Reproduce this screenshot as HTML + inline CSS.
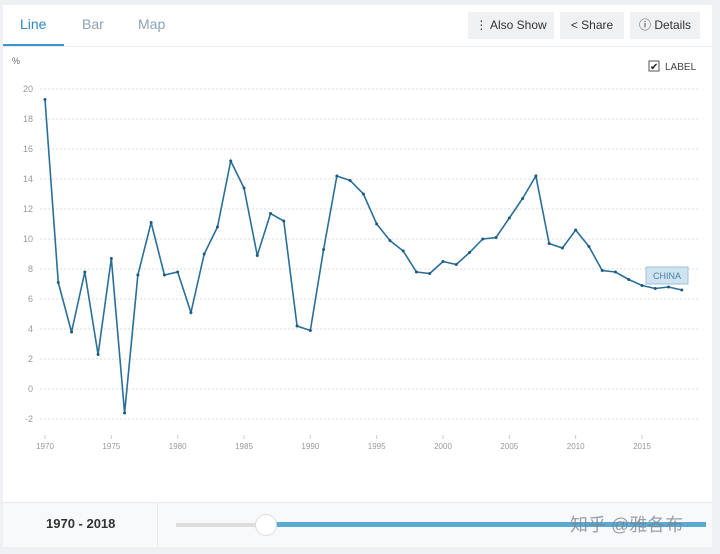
<!DOCTYPE html>
<html><head><meta charset="utf-8"><style>
body{margin:0;background:#eef0f3;font-family:"Liberation Sans","Noto Sans CJK SC",sans-serif;}
#wrap{position:relative;width:720px;height:554px;overflow:hidden;}
#card{position:absolute;left:3px;top:5px;width:709px;height:541px;background:#fff;}
.tab{position:absolute;top:16px;font-size:14px;color:#8aa4b8;}
.btn{position:absolute;top:12px;height:27px;background:#f0f1f3;font-size:12px;color:#333;line-height:27px;text-align:center;}
#bottom{position:absolute;left:3px;top:502px;width:709px;height:44px;background:#f8f9fa;border-top:1px solid #e6e8eb;}
</style></head><body><div id="wrap">
<div id="card"></div>
<div class="tab" style="left:20px;color:#2a8ac0">Line</div>
<div style="position:absolute;left:3px;top:44px;width:61px;height:2px;background:#3a95c9"></div>
<div style="position:absolute;left:3px;top:46px;width:709px;height:1px;background:#e8eaed"></div>
<div class="tab" style="left:82px">Bar</div>
<div class="tab" style="left:138px">Map</div>
<div class="btn" style="left:468px;width:86px">⋮ Also Show</div>
<div class="btn" style="left:560px;width:64px">&lt; Share</div>
<div class="btn" style="left:630px;width:70px">ⓘ Details</div>
<div id="bottom"></div>
<div style="position:absolute;left:157px;top:503px;width:1px;height:43px;background:#e6e8eb"></div>
<div style="position:absolute;left:46px;top:516px;font-size:13px;font-weight:bold;color:#333">1970 - 2018</div>
<div style="position:absolute;left:176px;top:523px;width:90px;height:4px;background:#ddd"></div>
<div style="position:absolute;left:266px;top:522px;width:440px;height:5px;background:#5aaad4"></div>
<div style="position:absolute;left:255px;top:514px;width:20px;height:20px;border-radius:50%;background:#fff;border:1px solid #ddd;"></div>
<div style="position:absolute;left:570px;top:511px;font-size:18px;color:rgba(120,130,140,0.75)">知乎 @雅各布</div>
<svg id="svg" width="720" height="554" style="position:absolute;left:0;top:0"></svg>
</div>
<script>
const years=[];for(let y=1970;y<=2018;y++)years.push(y);
const values=[19.3,7.1,3.8,7.8,2.3,8.7,-1.6,7.6,11.1,7.6,7.8,5.1,9.0,10.8,15.2,13.4,8.9,11.7,11.2,4.2,3.9,9.3,14.2,13.9,13.0,11.0,9.9,9.2,7.8,7.7,8.5,8.3,9.1,10.0,10.1,11.4,12.7,14.2,9.7,9.4,10.6,9.5,7.9,7.8,7.3,6.9,6.7,6.8,6.6];
const yTicks=[-2,0,2,4,6,8,10,12,14,16,18,20];
const xTicks=[1970,1975,1980,1985,1990,1995,2000,2005,2010,2015];
const X=y=>45+(y-1970)*(642-45)/45;
const Y=v=>389-v*15;
const svg=document.getElementById('svg');const NS='http://www.w3.org/2000/svg';
function mk(t,a){const e=document.createElementNS(NS,t);for(const k in a)e.setAttribute(k,a[k]);svg.appendChild(e);return e;}
let t=mk('text',{x:12,y:64,'font-size':9,fill:'#666'});t.textContent='%';


yTicks.forEach(v=>{
 const l=mk('line',{x1:40,x2:700,y1:Y(v),y2:Y(v),stroke:'#ddd','stroke-dasharray':'2,2'});
 
 
 const tx=mk('text',{x:33,y:Y(v)+3,'font-size':9,fill:'#999','text-anchor':'end'});tx.textContent=v;
 
 
});
xTicks.forEach(y=>{
 const l=mk('line',{x1:X(y),x2:X(y),y1:435,y2:439,stroke:'#ccc'});
 
 
 const tx=mk('text',{x:X(y),y:449,'font-size':8,fill:'#999','text-anchor':'middle'});tx.textContent=y;
 
 
});
const p=mk('polyline',{points:years.map((y,i)=>X(y)+','+Y(values[i])).join(' '),fill:'none',stroke:'#2a6f97','stroke-width':1.6});


years.forEach((y,i)=>{const c=mk('circle',{cx:X(y),cy:Y(values[i]),r:1.5,fill:'#1f5a80'});
 
 });
const r=mk('rect',{x:646,y:267,width:42,height:17,fill:'#cfe3f0',stroke:'#9cc3dc'});


const lt=mk('text',{x:667,y:279,'font-size':9,fill:'#4a7fa6','text-anchor':'middle'});lt.textContent='CHINA';


const cb=mk('rect',{x:649,y:61,width:10,height:10,fill:'#fff',stroke:'#555'});


const ck=mk('text',{x:650,y:70,'font-size':10,fill:'#222'});ck.textContent='✔';


const lb=mk('text',{x:665,y:70,'font-size':10,fill:'#444'});lb.textContent='LABEL';


</script></body></html>
